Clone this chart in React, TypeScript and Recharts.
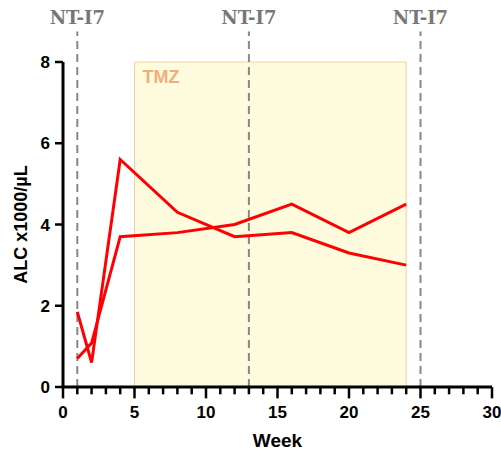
import React from "react";
import { LineChart, Line, XAxis, YAxis, ReferenceArea, ReferenceLine } from "recharts";

const weeks = [1, 2, 4, 8, 12, 16, 20, 24];
const patientA = [1.85, 0.6, 5.6, 4.3, 3.7, 3.8, 3.3, 3.0];
const patientB = [0.7, 1.08, 3.7, 3.8, 4.0, 4.5, 3.8, 4.5];

const xTicks = [0, 1, 2, 3, 4, 5, 6, 7, 8, 9, 10, 11, 12, 13, 14, 15, 16, 17, 18, 19, 20, 21, 22, 23, 24, 25, 26, 27, 28, 29, 30];
const xLabelled = [0, 5, 10, 15, 20, 25, 30];
const yTicks = [0, 2, 4, 6, 8];
const doseWeeks = [1, 13, 25];
const tmzStart = 5;
const tmzEnd = 24;

const data = weeks.map((w, i) => ({ week: w, a: patientA[i], b: patientB[i] }));

const font = "'Liberation Sans', Arial, sans-serif";

const renderWeekTick = (props: any) => {
  const { x, y, payload } = props;
  if (!xLabelled.includes(payload.value)) return <g />;
  return (
    <text x={x} y={y + 31} textAnchor="middle" fontFamily={font} fontWeight="bold" fontSize={17} fill="#000">
      {payload.value}
    </text>
  );
};

export default function App() {
  return (
    <div style={{ position: "absolute", left: 0, top: 0, background: "#fff" }}>
      <LineChart width={501} height={453} data={data} margin={{ top: 62, right: 9, left: 8, bottom: 6 }}>
        <ReferenceArea
          x1={tmzStart}
          x2={tmzEnd}
          y1={0}
          y2={8}
          fill="#fefbdf"
          fillOpacity={1}
          stroke="#f5d0a6"
          strokeWidth={1}
          label={{
            value: "TMZ",
            position: "insideTopLeft",
            offset: 8,
            fill: "#f0ae78",
            fontFamily: font,
            fontWeight: "bold",
            fontSize: 18,
          }}
        />
        {doseWeeks.map((w) => (
          <ReferenceLine
            key={w}
            segment={[{ x: w, y: 0 }, { x: w, y: 8.75 }]}
            ifOverflow="visible"
            stroke="#888"
            strokeWidth={2}
            strokeDasharray="8 5"
            label={{
              value: "NT-I7",
              position: "top",
              offset: 8,
              fill: "#777",
              fontFamily: "'DejaVu Serif', serif",
              fontWeight: "bold",
              fontSize: 18,
            }}
          />
        ))}
        {/* week tick marks below the axis: long every 5, short otherwise */}
        {xTicks.map((w) => (
          <ReferenceLine
            key={`t${w}`}
            segment={[{ x: w, y: 0 }, { x: w, y: xLabelled.includes(w) ? -0.28 : -0.18 }]}
            ifOverflow="visible"
            stroke="#000"
            strokeWidth={2.5}
          />
        ))}
        <XAxis
          dataKey="week"
          type="number"
          domain={[0, 30]}
          ticks={xTicks}
          interval={0}
          height={60}
          tickSize={0}
          tickMargin={0}
          tickLine={false}
          axisLine={{ stroke: "#000", strokeWidth: 3 }}
          tick={renderWeekTick}
          label={{
            value: "Week",
            position: "insideBottom",
            offset: 0,
            fill: "#000",
            fontFamily: font,
            fontWeight: "bold",
            fontSize: 19,
          }}
        />
        <YAxis
          type="number"
          domain={[0, 8]}
          ticks={yTicks}
          width={55}
          tickSize={8}
          tickMargin={5}
          axisLine={{ stroke: "#000", strokeWidth: 3 }}
          tickLine={{ stroke: "#000", strokeWidth: 2.5 }}
          tick={{ fill: "#000", fontFamily: font, fontWeight: "bold", fontSize: 17 }}
          label={{
            value: "ALC x1000/µL",
            angle: -90,
            position: "insideLeft",
            offset: 13,
            textAnchor: "middle",
            fill: "#000",
            fontFamily: font,
            fontWeight: "bold",
            fontSize: 18,
          }}
        />
        <Line type="linear" dataKey="a" stroke="#ff0000" strokeWidth={3} dot={false} isAnimationActive={false} />
        <Line type="linear" dataKey="b" stroke="#ff0000" strokeWidth={3} dot={false} isAnimationActive={false} />
      </LineChart>
    </div>
  );
}
